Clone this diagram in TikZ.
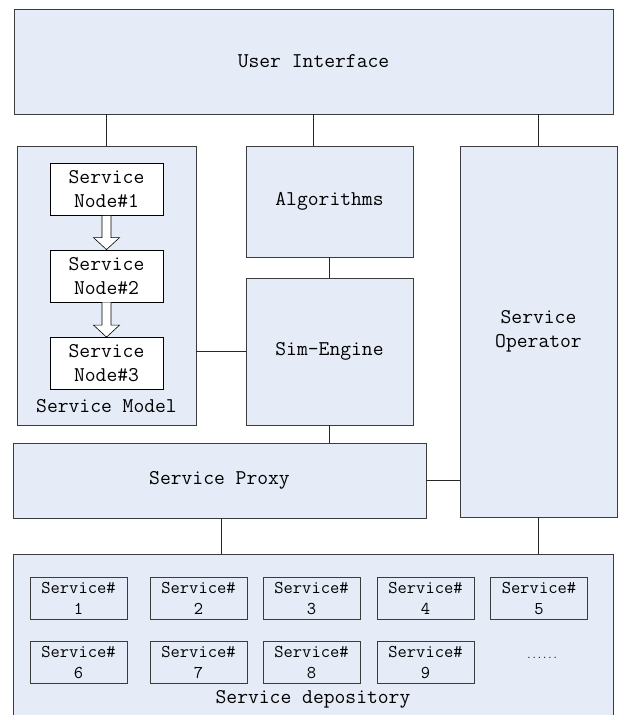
\documentclass[tikz,border=0pt]{standalone}
\usetikzlibrary{calc}
\definecolor{boxfill}{RGB}{229,236,247}
\definecolor{boxline}{RGB}{60,60,60}

\begin{document}
\begin{tikzpicture}[x=1pt,y=-1pt,
	font=\ttfamily\fontsize{21}{24}\selectfont,
	blk/.style={draw=boxline,fill=boxfill,line width=0.8pt,inner sep=0pt,align=center},
	sub/.style={draw=black,fill=white,line width=0.8pt,inner sep=0pt,align=center,minimum width=113pt,minimum height=52pt},
	svc/.style={blk,minimum width=97pt,minimum height=42pt,font=\ttfamily\fontsize{18}{21}\selectfont},
	link/.style={draw=black!85,line width=0.8pt}]
	\clip (0,0) rectangle (618,715);

	\node[blk,minimum width=599pt,minimum height=105pt] (ui) at (313.5,61.5) {User Interface};

	\node[blk,minimum width=179pt,minimum height=279pt] (model) at (106.5,285.5) {};
	\node[sub] (n1) at (106.5,189.5) {Service\\Node\#1};
	\node[sub] (n2) at (106.5,276) {Service\\Node\#2};
	\node[sub] (n3) at (106.5,363.5) {Service\\Node\#3};
	\node (mlabel) at (106.5,406) {Service Model};
	\foreach \a/\b in {n1/n2,n2/n3}
		\draw[fill=white,line width=0.6pt] ($(\a.south)+(-4.5,0)$) -- ($(\b.north)+(-4.5,-12)$)
			-- ($(\b.north)+(-13,-12)$) -- (\b.north) -- ($(\b.north)+(13,-12)$)
			-- ($(\b.north)+(4.5,-12)$) -- ($(\a.south)+(4.5,0)$);

	\node[blk,minimum width=167pt,minimum height=111pt] (algo) at (329.5,201.5) {Algorithms};
	\node[blk,minimum width=167pt,minimum height=147pt] (eng) at (329.5,351.5) {Sim-Engine};
	\node[blk,minimum width=157pt,minimum height=371pt] (op) at (538.5,331.5) {Service\\Operator};
	\node[blk,minimum width=413pt,minimum height=75pt] (proxy) at (219.5,480.5) {Service Proxy};

	\node[blk,minimum width=600pt,minimum height=190pt,anchor=north] (depot) at (313,554) {};
	\foreach \n/\x/\y in {1/78.5/598,2/198.5/598,3/311.5/598,4/425.5/598,5/539/598,
		6/78.5/662.5,7/198.5/662.5,8/311.5/662.5,9/425.5/662.5}
		\node[svc] (s\n) at (\x,\y) {Service\#\\\n};
	\node[font=\ttfamily\fontsize{10}{12}\selectfont] (more) at (542,658) {......};
	\node (dlabel) at (313,699) {Service depository};

	\draw[link] (model.north) -- (model.north |- ui.south);
	\draw[link] ([xshift=-16.5pt]algo.north) -- ([xshift=-16.5pt]algo.north |- ui.south);
	\draw[link] (op.north) -- (op.north |- ui.south);
	\draw[link] (algo) -- (eng);
	\draw[link] (model.east |- eng) -- (eng.west);
	\draw[link] (eng.south) -- (eng.south |- proxy.north);
	\draw[link] (proxy.east) -- (proxy.east -| op.west);
	\draw[link] ([xshift=1.5pt]proxy.south) -- ([xshift=1.5pt]proxy.south |- depot.north);
	\draw[link] (op.south) -- (op.south |- depot.north);
\end{tikzpicture}
\end{document}
